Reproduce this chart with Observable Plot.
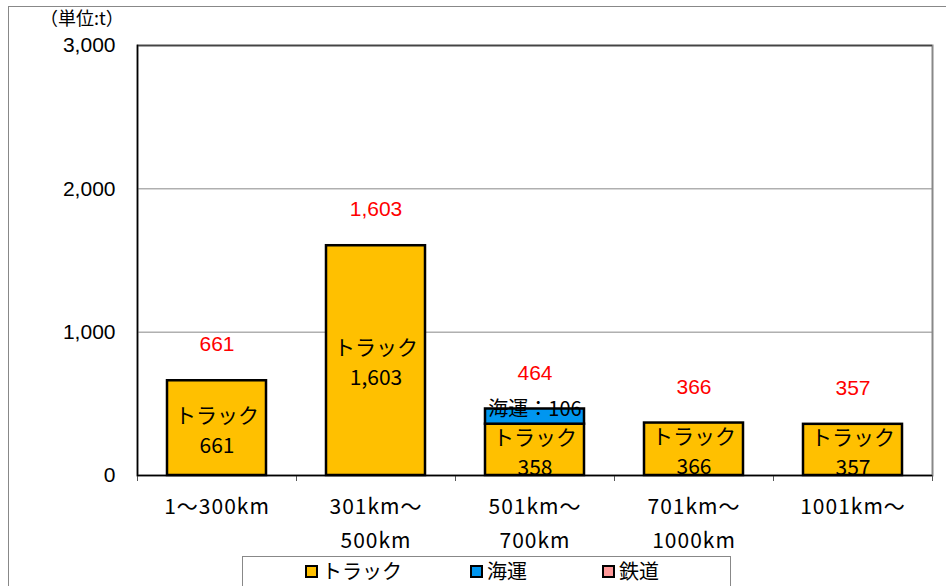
<!DOCTYPE html>
<html><head><meta charset="utf-8">
<script src="https://cdn.jsdelivr.net/npm/d3@7"></script>
<script src="https://cdn.jsdelivr.net/npm/@observablehq/plot@0.6"></script>
<style>
body{margin:0;background:#fff;}
#wrap{position:relative;width:946px;height:586px;overflow:hidden;font-family:"Noto Sans CJK JP","Liberation Sans",sans-serif;}
#outer{position:absolute;left:8px;top:6px;width:960px;height:600px;border-top:1px solid #888;border-left:1px solid #888;}
#chart{position:absolute;left:0;top:0;}
#unit{position:absolute;left:40px;top:5px;font-size:18px;line-height:24px;color:#000;}
#legend{position:absolute;left:242px;top:556px;width:487px;height:40px;border:1px solid #888;background:#fff;font-size:20px;line-height:28px;}
.item{position:absolute;top:0;display:flex;align-items:center;}
.sw{width:9px;height:9px;border:2px solid #000;margin-right:4px;}
#chart g[aria-label="x-axis tick label"] text{letter-spacing:1px;}
</style></head>
<body>
<div id="wrap">
<div id="outer"></div>
<div id="chart"></div>
<div id="unit">（単位:t）</div>
<div id="legend"></div>
</div>
<script>
const categories = ["1～300km", "301km～\n500km", "501km～\n700km", "701km～\n1000km", "1001km～"];
const modes = ["トラック", "海運", "鉄道"];
const truck = [661, 1603, 358, 366, 357];
const sea = [0, 0, 106, 0, 0];
const rail = [0, 0, 0, 0, 0];
const totals = [661, 1603, 464, 366, 357];
const colors = ["#FFC000", "#0096F0", "#FF9999"];
const yTicks = [0, 1000, 2000, 3000];

const series = [truck, sea, rail];
const rows = [];
categories.forEach((c, i) => {
  let base = 0;
  series.forEach((s, k) => {
    const v = s[i];
    if (v > 0) rows.push({cat: c, mode: modes[k], value: v, y1: base, y2: base + v, mid: base + v / 2});
    base += v;
  });
});
const truckRows = rows.filter(d => d.mode === "トラック");
const seaRows = rows.filter(d => d.mode === "海運");
const totalRows = categories.map((c, i) => ({cat: c, total: totals[i]}));
const step = (946 - 137 - 14) / categories.length;
const fmt = d3.format(",");

const plot = Plot.plot({
  width: 946, height: 586,
  marginLeft: 137, marginRight: 14, marginTop: 45, marginBottom: 111,
  style: {fontFamily: '"Noto Sans CJK JP","Liberation Sans",sans-serif', color: "#000", background: "transparent", overflow: "visible"},
  x: {domain: categories, paddingInner: 0.38, paddingOuter: 0.19, label: null},
  y: {domain: [0, 3000], label: null},
  color: {domain: modes, range: colors},
  marks: [
    Plot.gridY(yTicks.slice(1, 3), {stroke: "#888", strokeOpacity: 1}),
    Plot.frame({stroke: "#888", strokeWidth: 2}),
    Plot.ruleY([3000], {stroke: "#444", strokeWidth: 1.5}),
    Plot.frame({anchor: "left", stroke: "#000", strokeWidth: 1.5}),
    Plot.ruleX(categories, {x: d => d, y1: 0, y2: 0, dx: -step / 2, insetBottom: -6, stroke: "#555"}),
    Plot.ruleX(categories.slice(-1), {x: d => d, y1: 0, y2: 0, dx: step / 2, insetBottom: -6, stroke: "#555"}),
    Plot.barY(rows, {x: "cat", y1: "y1", y2: "y2", fill: "mode", stroke: "#000", strokeWidth: 2.5}),
    Plot.ruleY([0], {stroke: "#000", strokeWidth: 1.5}),
    Plot.text(truckRows, {x: "cat", y: "mid", text: d => "トラック", fontSize: 21, dy: -12, fill: "#000"}),
    Plot.text(truckRows, {x: "cat", y: "mid", text: d => fmt(d.value), fontSize: 21, dy: 18, fill: "#000"}),
    Plot.text(seaRows, {x: "cat", y: "mid", text: d => `海運：${d.value}`, fontSize: 20, dy: -7, fill: "#000"}),
    Plot.text(totalRows, {x: "cat", y: "total", text: d => fmt(d.total), dy: -36, fontSize: 21, fill: "#FF0000", fontFamily: '"Liberation Sans",sans-serif'}),
    Plot.axisY(yTicks, {tickSize: 0, tickPadding: 22, fontSize: 21, tickFormat: fmt, fontFamily: '"Liberation Sans",sans-serif', label: null}),
    Plot.axisX({tickSize: 0, tickPadding: 14, fontSize: 21, lineHeight: 1.62, label: null})
  ]
});
document.getElementById("chart").appendChild(plot);

const legend = document.getElementById("legend");
const lx = [62, 227, 359];
modes.forEach((m, k) => {
  const it = document.createElement("div");
  it.className = "item";
  it.style.left = lx[k] + "px";
  it.innerHTML = `<span class="sw" style="background:${colors[k]}"></span><span>${m}</span>`;
  legend.appendChild(it);
});
</script>
</body></html>
